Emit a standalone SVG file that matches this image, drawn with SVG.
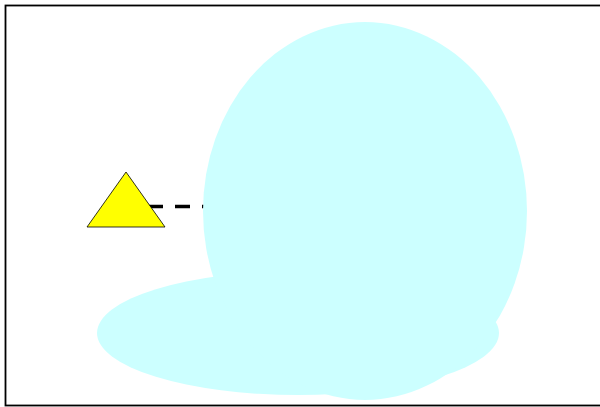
<svg xmlns="http://www.w3.org/2000/svg" width="600" height="407" viewBox="0 0 600 407">
<style>
.blob{fill:#ccffff;stroke:none}
.conn{stroke:#000;stroke-width:3.5;stroke-dasharray:15 12;fill:none}
</style>
<rect x="0" y="0" width="600" height="407" fill="#fff"/>
<rect x="5.5" y="5.5" width="600" height="400" fill="none" stroke="#000" stroke-width="1.8"/>
<g id="connectors">
<line class="conn" x1="148" y1="206.5" x2="215" y2="206.5"/>
</g>
<g id="triangle">
<polygon points="126,172 165,227 87,227" fill="#ffff00" stroke="#000" stroke-width="0.8"/>
</g>
<g id="cloud">
<ellipse class="blob" cx="298" cy="333" rx="201" ry="62"/>
<ellipse class="blob" cx="365" cy="211" rx="162" ry="189"/>
</g>
</svg>
